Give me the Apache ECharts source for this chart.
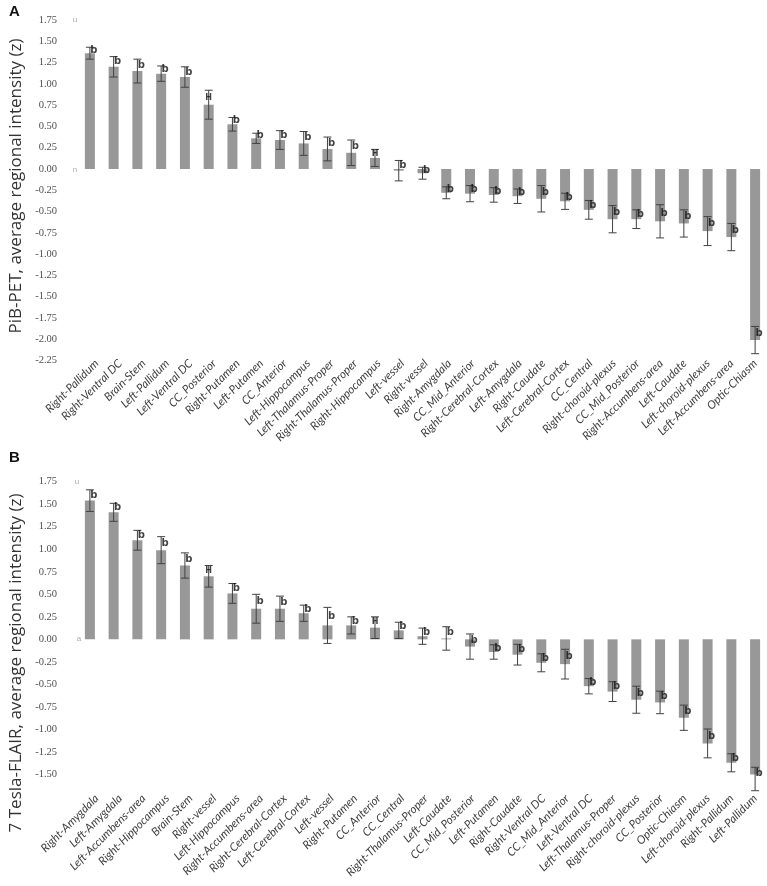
<!DOCTYPE html>
<html>
<head>
<meta charset="utf-8">
<script src="https://cdn.jsdelivr.net/npm/echarts@6/dist/echarts.min.js"></script>
<style>html,body{margin:0;padding:0;background:#fff}#c{width:767px;height:886px}</style>
</head>
<body>
<div id="c"></div>
<script>
// ---------- Panel A: PiB-PET ----------
const catsA = ['Right-Pallidum','Right-Ventral DC','Brain-Stem','Left-Pallidum','Left-Ventral DC','CC_Posterior','Right-Putamen','Left-Putamen','CC_Anterior','Left-Hippocampus','Left-Thalamus-Proper','Right-Thalamus-Proper','Right-Hippocampus','Left-vessel','Right-vessel','Right-Amygdala','CC_Mid_Anterior','Right-Cerebral-Cortex','Left-Amygdala','Right-Caudate','Left-Cerebral-Cortex','CC_Central','Right-choroid-plexus','CC_Mid_Posterior','Right-Accumbens-area','Left-Caudate','Left-choroid-plexus','Left-Accumbens-area','Optic-Chiasm'];
const valsA = [1.36,1.20,1.15,1.12,1.08,0.755,0.525,0.36,0.34,0.30,0.235,0.19,0.13,-0.02,-0.05,-0.28,-0.29,-0.305,-0.32,-0.35,-0.38,-0.48,-0.59,-0.59,-0.615,-0.64,-0.73,-0.80,-2.01];
const errsA = [0.07,0.12,0.14,0.09,0.12,0.17,0.08,0.06,0.11,0.14,0.14,0.15,0.10,0.12,0.07,0.07,0.095,0.085,0.085,0.155,0.095,0.11,0.16,0.11,0.195,0.16,0.17,0.16,0.16];
const markA = ['b','b','b','b','b','H','b','b','b','b','b','b','H','b','b','b','b','b','b','b','b','b','b','b','b','b','b','b','b'];
const yTicksA = {min:-2.25, max:1.75, interval:0.25};

// ---------- Panel B: 7 Tesla-FLAIR ----------
const catsB = ['Right-Amygdala','Left-Amygdala','Left-Accumbens-area','Right-Hippocampus','Brain-Stem','Right-vessel','Left-Hippocampus','Right-Accumbens-area','Right-Cerebral-Cortex','Left-Cerebral-Cortex','Left-vessel','Right-Putamen','CC_Anterior','CC_Central','Right-Thalamus-Proper','Left-Caudate','CC_Mid_Posterior','Left-Putamen','Right-Caudate','Right-Ventral DC','CC_Mid_Anterior','Left-Ventral DC','Left-Thalamus-Proper','Right-choroid-plexus','CC_Posterior','Optic-Chiasm','Left-choroid-plexus','Right-Pallidum','Left-Pallidum'];
const valsB = [1.54,1.41,1.10,0.99,0.82,0.70,0.51,0.34,0.34,0.29,0.155,0.155,0.13,0.10,0.035,0.01,-0.08,-0.14,-0.17,-0.26,-0.275,-0.52,-0.58,-0.67,-0.70,-0.87,-1.155,-1.37,-1.55];
const errsB = [0.12,0.10,0.11,0.15,0.14,0.12,0.11,0.16,0.14,0.09,0.20,0.095,0.12,0.09,0.09,0.13,0.14,0.08,0.115,0.10,0.165,0.085,0.11,0.15,0.125,0.14,0.16,0.10,0.13];
const markB = ['b','b','b','b','b','H','b','b','b','b','b','b','H','b','b','b','b','b','b','b','b','b','b','b','b','b','b','b','b'];
const yTicksB = {min:-1.50, max:1.75, interval:0.25};

const titleA = 'PiB-PET, average regional intensity (z)';
const titleB = '7 Tesla-FLAIR, average regional intensity (z)';

const chart = echarts.init(document.getElementById('c'), null, {renderer:'canvas'});

function xAxisFor(cats, gi, showLabels, margin){
  return {
    type:'category', gridIndex:gi, data:cats,
    axisLine:{show:false, onZero:false}, axisTick:{show:false},
    axisLabel:{show:showLabels, interval:0, rotate:45, fontStyle:'italic', fontSize:11.5, color:'#404040', margin:margin, fontFamily:'Lato'}
  };
}
function yAxisFor(t, gi, show){
  return {
    type:'value', gridIndex:gi, min:t.min, max:t.max, interval:t.interval, show:show,
    splitLine:{show:false}, axisLine:{show:false}, axisTick:{show:false},
    axisLabel:{margin:21, fontSize:10.5, color:'#505050', fontFamily:'Liberation Serif', formatter:v=>v.toFixed(2)}
  };
}
function errSeries(vals, errs, gi){
  return {
    type:'custom', xAxisIndex:gi, yAxisIndex:gi, z:5,
    data: vals.map((v,i)=>[i, v, errs[i]]),
    renderItem:(params, api)=>{
      const i = api.value(0), v = api.value(1), e = api.value(2);
      const top = api.coord([i, v+e]);
      const bot = api.coord([i, v-e]);
      const hw = 4;
      const st = {stroke:'#404040', lineWidth:1};
      return {type:'group', children:[
        {type:'line', shape:{x1:top[0], y1:top[1], x2:bot[0], y2:bot[1]}, style:st},
        {type:'line', shape:{x1:top[0]-hw, y1:top[1], x2:top[0]+hw, y2:top[1]}, style:st},
        {type:'line', shape:{x1:bot[0]-hw, y1:bot[1], x2:bot[0]+hw, y2:bot[1]}, style:st}
      ]};
    }
  };
}
function markSeries(vals, errs, marks, gi){
  return {
    type:'scatter', xAxisIndex:gi, yAxisIndex:gi, z:6, symbolSize:0, silent:true,
    data: vals.map((v,i)=>({
      value:[i, v + errs[i]/2],
      label:{show:true, position:'inside', formatter:marks[i], offset:[marks[i]==='H'?0:4,0],
             color:'#111', fontWeight:'bold', fontSize:marks[i]==='H'?8:10, fontFamily:'DejaVu Sans'}
    }))
  };
}
function barSeries(vals, gi){
  return {type:'bar', xAxisIndex:gi, yAxisIndex:gi, data:vals, barWidth:10, itemStyle:{color:'#989898'}, z:2};
}

const option = {
  animation:false,
  backgroundColor:'#ffffff',
  grid:[
    {left:78, width:689, top:20, height:340.5},
    {left:78, width:689, top:481.7, height:292.8},
    // label-only grids (category labels drawn slightly right of the bars, as in the reference)
    {left:85, width:689, top:20, height:340.5},
    {left:85, width:689, top:481.7, height:292.8}
  ],
  xAxis:[xAxisFor(catsA,0,false,0), xAxisFor(catsB,1,false,0), xAxisFor(catsA,2,true,1), xAxisFor(catsB,3,true,22)],
  yAxis:[yAxisFor(yTicksA,0,true), yAxisFor(yTicksB,1,true), yAxisFor(yTicksA,2,false), yAxisFor(yTicksB,3,false)],
  series:[
    barSeries(valsA,0), errSeries(valsA,errsA,0), markSeries(valsA,errsA,markA,0),
    barSeries(valsB,1), errSeries(valsB,errsB,1), markSeries(valsB,errsB,markB,1)
  ],
  graphic:[
    {type:'text', left:9, top:4, style:{text:'A', font:'bold 15px "Liberation Sans"', fill:'#111'}},
    {type:'text', left:9, top:450, style:{text:'B', font:'bold 15px "Liberation Sans"', fill:'#111'}},
    {type:'text', x:16, y:186, rotation:Math.PI/2, style:{text:titleA, font:'17px "Open Sans"', fill:'#333', align:'center', verticalAlign:'middle'}},
    {type:'text', x:16, y:663, rotation:Math.PI/2, style:{text:titleB, font:'17px "Open Sans"', fill:'#333', align:'center', verticalAlign:'middle'}},
    {type:'text', x:75, y:20, style:{text:'u', font:'8px "Liberation Sans"', fill:'#aaa', align:'center', verticalAlign:'middle'}},
    {type:'text', x:75, y:170, style:{text:'n', font:'8px "Liberation Sans"', fill:'#aaa', align:'center', verticalAlign:'middle'}},
    {type:'text', x:77, y:482, style:{text:'u', font:'8px "Liberation Sans"', fill:'#aaa', align:'center', verticalAlign:'middle'}},
    {type:'text', x:79, y:639, style:{text:'a', font:'8px "Liberation Sans"', fill:'#aaa', align:'center', verticalAlign:'middle'}}
  ]
};
chart.setOption(option);
</script>
</body>
</html>
